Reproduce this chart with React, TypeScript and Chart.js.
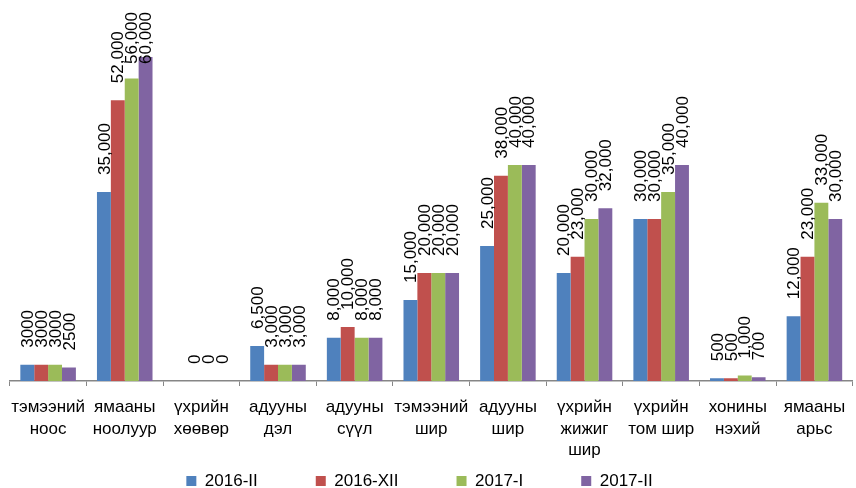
import React, { useEffect, useRef } from 'react';
import { Chart, registerables } from 'chart.js';

Chart.register(...registerables);

const categories: string[][] = [
  ['тэмээний', 'ноос'],
  ['ямааны', 'ноолуур'],
  ['үхрийн', 'хөөвөр'],
  ['адууны', 'дэл'],
  ['адууны', 'сүүл'],
  ['тэмээний', 'шир'],
  ['адууны', 'шир'],
  ['үхрийн', 'жижиг', 'шир'],
  ['үхрийн', 'том шир'],
  ['хонины', 'нэхий'],
  ['ямааны', 'арьс'],
];

const series2016II = [3000, 35000, null, 6500, 8000, 15000, 25000, 20000, 30000, 500, 12000];
const series2016XII = [3000, 52000, 0, 3000, 10000, 20000, 38000, 23000, 30000, 500, 23000];
const series2017I = [3000, 56000, 0, 3000, 8000, 20000, 40000, 30000, 35000, 1000, 33000];
const series2017II = [2500, 60000, 0, 3000, 8000, 20000, 40000, 32000, 40000, 700, 30000];

const seriesNames = ['2016-II', '2016-XII', '2017-I', '2017-II'];
const seriesColors = ['#4F81BD', '#C0504D', '#9BBB59', '#8064A2'];
const seriesValues = [series2016II, series2016XII, series2017I, series2017II];

// categories whose data labels are shown without a thousands separator
const plainFormatCategories = [0];
const yMax = 70000;

const FONT = '"Liberation Sans", Arial, sans-serif';
const LEGEND_PADDING = 58;

const rotatedLabels = {
  id: 'rotatedLabels',
  afterDatasetsDraw(chart: any) {
    const ctx = chart.ctx;
    ctx.save();
    ctx.font = `17px ${FONT}`;
    ctx.fillStyle = '#000000';
    ctx.textAlign = 'left';
    ctx.textBaseline = 'middle';
    chart.data.datasets.forEach((ds: any, di: number) => {
      const meta = chart.getDatasetMeta(di);
      meta.data.forEach((bar: any, i: number) => {
        const v = ds.data[i];
        if (v === null || v === undefined) return;
        const text = plainFormatCategories.includes(i) ? String(v) : v.toLocaleString('en-US');
        const w = ctx.measureText(text).width;
        let y = bar.y - 17;
        const minTop = chart.chartArea.top + 9;
        if (y - w < minTop) y = minTop + w;
        ctx.save();
        ctx.translate(bar.x + 1, y);
        ctx.rotate(-Math.PI / 2);
        ctx.fillText(text, 0, 0);
        ctx.restore();
      });
    });
    ctx.restore();
  },
};

// place the legend row near the bottom edge (Excel-like spacing)
const legendPlacement = {
  id: 'legendPlacement',
  afterLayout(chart: any) {
    const lg = chart.legend;
    if (!lg) return;
    const h = lg.height;
    const desiredCenter = 481;
    const top = desiredCenter - LEGEND_PADDING - 17 / 2;
    lg.top = top;
    lg.bottom = top + h;
    lg.left -= 12;
    lg.right -= 12;
  },
};

export default function App() {
  const canvasRef = useRef<HTMLCanvasElement | null>(null);

  useEffect(() => {
    if (!canvasRef.current) return;
    const chart = new Chart(canvasRef.current, {
      type: 'bar',
      data: {
        labels: categories,
        datasets: seriesNames.map((name, k) => ({
          label: name,
          data: seriesValues[k],
          backgroundColor: seriesColors[k],
          borderWidth: 0,
          categoryPercentage: 0.725,
          barPercentage: 1,
        })),
      },
      options: {
        responsive: false,
        animation: false,
        layout: { padding: { top: 3, left: 7, right: 0, bottom: -62 } },
        plugins: {
          legend: {
            position: 'bottom',
            labels: {
              boxWidth: 10,
              boxHeight: 10,
              padding: LEGEND_PADDING,
              color: '#000000',
              font: { family: FONT, size: 17 },
            },
          },
          tooltip: { enabled: false },
        },
        scales: {
          x: {
            grid: {
              offset: true,
              drawOnChartArea: false,
              drawTicks: true,
              tickLength: 5,
              color: '#868686',
              lineWidth: 1,
            },
            border: { display: true, color: '#868686', width: 1.5 },
            ticks: {
              autoSkip: false,
              maxRotation: 0,
              minRotation: 0,
              padding: 11,
              color: '#000000',
              font: { family: FONT, size: 17, lineHeight: 1.265 },
            },
            afterFit: (s: any) => {
              s.height = 84;
            },
          },
          y: { display: false, min: 0, max: yMax },
        },
      },
      plugins: [rotatedLabels, legendPlacement],
    });
    return () => chart.destroy();
  }, []);

  return (
    <div style={{ position: 'absolute', left: 0, top: 0, width: 856, height: 488, background: '#fff' }}>
      <canvas ref={canvasRef} width={856} height={488} />
    </div>
  );
}
